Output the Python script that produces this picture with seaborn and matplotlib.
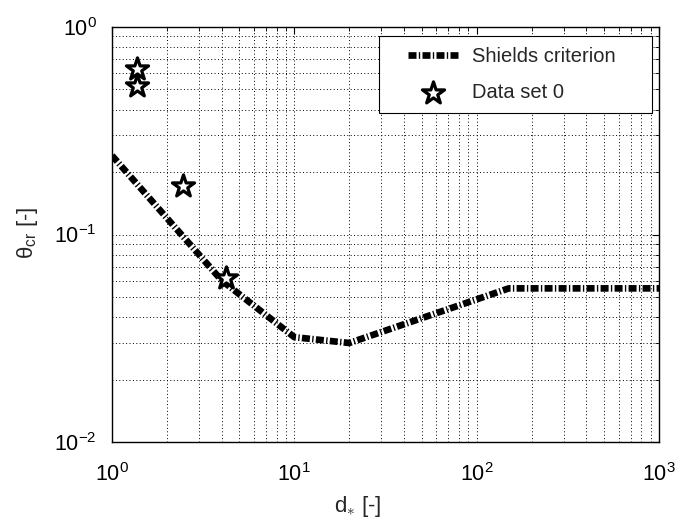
import matplotlib
matplotlib.use("Agg")
import matplotlib.pyplot as plt
import matplotlib.ticker as mticker
from matplotlib.lines import Line2D
from matplotlib.collections import PathCollection
from matplotlib.legend_handler import HandlerLine2D, HandlerPathCollection
import seaborn as sns
import pandas as pd
import numpy as np

# Shields criterion breakpoints
shields_d = [1, 4, 10, 20, 150, 1000]
shields_theta = [0.24, 0.06, 0.032, 0.030, 0.055, 0.055]

# Data set 0
data_d = [1.37, 1.37, 2.45, 4.2]
data_theta = [0.63, 0.52, 0.171, 0.062]

sns.set_style("white")
plt.rcParams['font.family'] = ['Liberation Sans', 'DejaVu Sans']
plt.rcParams['mathtext.fontset'] = 'custom'
plt.rcParams['mathtext.rm'] = 'Liberation Sans'
plt.rcParams['mathtext.it'] = 'Liberation Sans'

fig = plt.figure(figsize=(6.86, 5.27), dpi=100)
ax = fig.add_axes([112/686, 1-442/527, (659-112)/686, (442-27)/527])

df_line = pd.DataFrame({"d": shields_d, "theta": shields_theta})
df_pts = pd.DataFrame({"d": data_d, "theta": data_theta})

sns.lineplot(data=df_line, x="d", y="theta", ax=ax, color="black", lw=4.8,
             label="Shields criterion", sort=False)
ax.lines[0].set_dashes([1.2, 0.35, 0.2, 0.35])
sns.scatterplot(data=df_pts, x="d", y="theta", ax=ax, marker="*", s=280,
                facecolor="white", edgecolor="black", linewidth=2.3,
                label="Data set 0", zorder=5)

ax.set_xscale("log")
ax.set_yscale("log")
ax.set_xlim(1, 1000)
ax.set_ylim(0.01, 1)

ax.xaxis.set_minor_formatter(mticker.NullFormatter())
ax.yaxis.set_minor_formatter(mticker.NullFormatter())
ax.xaxis.set_minor_locator(mticker.LogLocator(base=10, subs=np.arange(2, 10), numticks=20))
ax.yaxis.set_minor_locator(mticker.LogLocator(base=10, subs=np.arange(2, 10), numticks=20))

ax.grid(True, which="both", color="black", linestyle=(0, (1, 2.5)), linewidth=0.7)
ax.tick_params(which="both", direction="in", top=True, right=True, colors="black")
ax.tick_params(which="major", length=5, width=0.8)
ax.tick_params(which="minor", length=3, width=0.6)
ax.tick_params(axis="x", which="major", pad=15, labelsize=15.5)
ax.tick_params(axis="y", which="major", pad=11, labelsize=15.5)
for s in ax.spines.values():
    s.set_color("black")
    s.set_linewidth(1.0)

ax.set_xlabel("d$_{\\ast}$ [-]", fontsize=16)
ax.set_ylabel("θ$_{\\mathregular{cr}}$ [-]", fontsize=16)
ax.xaxis.set_label_coords((358-112)/547, (442-494)/415)
ax.yaxis.set_label_coords((40-112)/547, 0.505)

handles, labels = ax.get_legend_handles_labels()
leg = ax.legend(handles, labels, loc="upper left", mode="expand",
                bbox_to_anchor=((379-112)/547, (442-112)/415, 273/547, 76/415),
                borderaxespad=0, fontsize=14.5, frameon=True, fancybox=False,
                framealpha=1, edgecolor="black", borderpad=0.55,
                handlelength=3.35, handletextpad=0.7, labelspacing=0.85,
                handler_map={Line2D: HandlerLine2D(xpad=0.9),
                             PathCollection: HandlerPathCollection(xpad=0.9)})
leg.get_frame().set_linewidth(0.8)

fig.savefig("out.png", dpi=100)
